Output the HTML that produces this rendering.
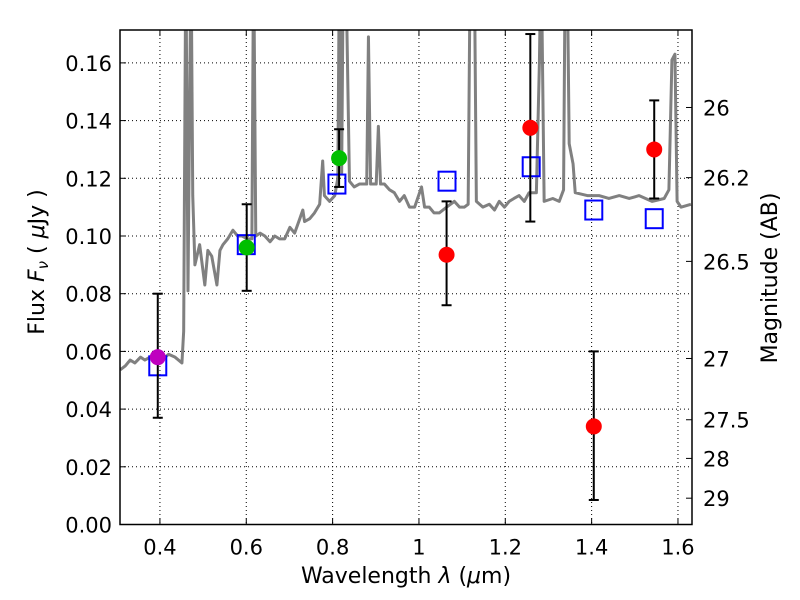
<!DOCTYPE html>
<html><head><meta charset="utf-8"><style>
body{margin:0;background:#fff;}
svg{display:block;font-family:"DejaVu Sans","Liberation Sans",sans-serif;}
</style></head><body>
<svg id="chart" width="800" height="600" viewBox="0 0 800 600" xmlns="http://www.w3.org/2000/svg"></svg>
<script>
const xTicks=[0.4,0.6,0.8,1.0,1.2,1.4,1.6];
const xTickLabels=["0.4","0.6","0.8","1","1.2","1.4","1.6"];
const yTicks=[0,0.02,0.04,0.06,0.08,0.10,0.12,0.14,0.16];
const yTickLabels=["0.00","0.02","0.04","0.06","0.08","0.10","0.12","0.14","0.16"];
const magTicks=[26,26.2,26.5,27,27.5,28,29];
const magTickLabels=["26","26.2","26.5","27","27.5","28","29"];
const specWl=[0.308,0.320,0.331,0.342,0.355,0.365,0.377,0.390,0.405,0.420,0.435,0.451,0.455,0.460,0.465,0.472,0.476,0.481,0.492,0.504,0.511,0.520,0.532,0.539,0.546,0.557,0.569,0.580,0.590,0.603,0.613,0.617,0.622,0.632,0.643,0.655,0.666,0.677,0.689,0.701,0.712,0.724,0.731,0.735,0.747,0.758,0.770,0.777,0.781,0.793,0.805,0.812,0.816,0.821,0.825,0.830,0.839,0.850,0.862,0.879,0.883,0.888,0.901,0.906,0.911,0.920,0.932,0.943,0.955,0.966,0.978,0.990,1.006,1.013,1.024,1.035,1.047,1.064,1.082,1.094,1.105,1.114,1.119,1.128,1.133,1.148,1.163,1.175,1.186,1.198,1.209,1.220,1.232,1.244,1.255,1.272,1.279,1.283,1.290,1.310,1.325,1.335,1.339,1.343,1.348,1.357,1.362,1.390,1.417,1.440,1.464,1.487,1.510,1.540,1.568,1.579,1.586,1.593,1.598,1.607,1.630];
const specFlux=[0.0536,0.055,0.057,0.056,0.058,0.057,0.058,0.059,0.057,0.059,0.058,0.056,0.067,0.2,0.081,0.2,0.114,0.090,0.097,0.083,0.095,0.093,0.083,0.095,0.097,0.099,0.102,0.100,0.100,0.099,0.099,0.2,0.100,0.101,0.100,0.098,0.100,0.099,0.099,0.103,0.101,0.106,0.109,0.105,0.106,0.108,0.111,0.126,0.114,0.112,0.114,0.120,0.2,0.122,0.2,0.2,0.119,0.117,0.118,0.118,0.169,0.118,0.118,0.138,0.118,0.118,0.116,0.115,0.112,0.114,0.110,0.110,0.117,0.110,0.110,0.108,0.108,0.110,0.112,0.110,0.110,0.111,0.2,0.2,0.112,0.110,0.111,0.109,0.112,0.110,0.112,0.113,0.114,0.112,0.115,0.115,0.160,0.2,0.112,0.113,0.112,0.116,0.2,0.2,0.132,0.125,0.115,0.114,0.114,0.113,0.114,0.113,0.114,0.112,0.113,0.116,0.161,0.163,0.112,0.110,0.111];
const sqWl=[0.395,0.600,0.810,1.065,1.260,1.405,1.545];
const sqFlux=[0.055,0.097,0.118,0.119,0.124,0.109,0.106];
const magentaWl=[0.395],magentaFlux=[0.058],magentaLo=[0.037],magentaHi=[0.080];
const greenWl=[0.601,0.815],greenFlux=[0.096,0.127],greenLo=[0.081,0.117],greenHi=[0.111,0.137];
const redWl=[1.064,1.258,1.405,1.545],redFlux=[0.0935,0.1375,0.034,0.130],redLo=[0.076,0.105,0.0085,0.113],redHi=[0.112,0.170,0.060,0.147];

const L=120,R=692,T=30,B=524.5;
const X0=0.3075,X1=1.6325,Y0=0,Y1=0.1714;
const sx=v=>L+(v-X0)/(X1-X0)*(R-L);
const sy=v=>B-(v-Y0)/(Y1-Y0)*(B-T);
const magY=m=>sy(Math.pow(10,-0.4*(m-23.9)));
const svg=document.getElementById('chart');
const NS="http://www.w3.org/2000/svg";
function mk(tag,attrs,parent){const e=document.createElementNS(NS,tag);for(const k in attrs)e.setAttribute(k,attrs[k]);(parent||svg).appendChild(e);return e;}

const defs=mk('defs',{});
const cp=mk('clipPath',{id:'clip'},defs);mk('rect',{x:L,y:T,width:R-L,height:B-T},cp);

const grid=mk('g',{});


xTicks.forEach(v=>{mk('line',{x1:sx(v),x2:sx(v),y1:T,y2:B,stroke:'#000','stroke-width':1,'stroke-dasharray':'1,3'},grid);});
yTicks.forEach(v=>{mk('line',{x1:L,x2:R,y1:sy(v),y2:sy(v),stroke:'#000','stroke-width':1,'stroke-dasharray':'1,3'},grid);});

const spec=mk('polyline',{points:specWl.map((w,i)=>sx(w)+','+sy(specFlux[i])).join(' '),fill:'none',stroke:'#808080','stroke-width':3,'stroke-linejoin':'round','clip-path':'url(#clip)'});



function errs(wl,lo,hi,name){const g=mk('g',{'clip-path':'url(#clip)'});


wl.forEach((w,i)=>{const x=sx(w);mk('line',{x1:x,x2:x,y1:sy(lo[i]),y2:sy(hi[i]),stroke:'#000','stroke-width':2},g);
[lo[i],hi[i]].forEach(v=>mk('line',{x1:x-5,x2:x+5,y1:sy(v),y2:sy(v),stroke:'#000','stroke-width':2},g));});}
function dots(wl,fl,color,name){const g=mk('g',{});


wl.forEach((w,i)=>{const c=mk('circle',{cx:sx(w),cy:sy(fl[i]),r:8,fill:color},g);

});}

const sq=mk('g',{});


errs(magentaWl,magentaLo,magentaHi,'magenta-errorbars');
dots(magentaWl,magentaFlux,'#bf00bf','magenta-photometry');
sqWl.forEach((w,i)=>{const r=mk('rect',{x:sx(w)-8.5,y:sy(sqFlux[i])-9.5,width:17,height:19,fill:'none',stroke:'#0000ff','stroke-width':2},sq);

});
errs(greenWl,greenLo,greenHi,'green-errorbars');
dots(greenWl,greenFlux,'#00bf00','green-photometry');
errs(redWl,redLo,redHi,'red-errorbars');
dots(redWl,redFlux,'#ff0000','red-photometry');

const ax=mk('g',{});


mk('rect',{x:L,y:T,width:R-L,height:B-T,fill:'none',stroke:'#000','stroke-width':1.5},ax);
xTicks.forEach((v,i)=>{const x=sx(v);mk('line',{x1:x,x2:x,y1:B,y2:B-6,stroke:'#000'},ax);mk('line',{x1:x,x2:x,y1:T,y2:T+6,stroke:'#000'},ax);
const t=mk('text',{x:x,y:B+30,'text-anchor':'middle','font-size':21},ax);t.textContent=xTickLabels[i];

});
yTicks.forEach((v,i)=>{const y=sy(v);mk('line',{x1:L,x2:L+6,y1:y,y2:y,stroke:'#000'},ax);
const t=mk('text',{x:L-8,y:y+8,'text-anchor':'end','font-size':21},ax);t.textContent=yTickLabels[i];

});
magTicks.forEach((m,i)=>{const y=magY(m);mk('line',{x1:R-6,x2:R,y1:y,y2:y,stroke:'#000'},ax);
const t=mk('text',{x:R+11,y:y+8,'font-size':21},ax);t.textContent=magTickLabels[i];

});
</script>
<svg style="position:absolute;left:0;top:0" width="800" height="600">
<text x="406" y="583" text-anchor="middle" font-size="22" font-family="DejaVu Sans, sans-serif">Wavelength  <tspan font-style="italic">λ</tspan> (<tspan font-style="italic">μ</tspan>m)</text>
<text transform="translate(44,262) rotate(-90)" text-anchor="middle" font-size="22" font-family="DejaVu Sans, sans-serif">Flux  <tspan font-style="italic">F</tspan><tspan font-style="italic" font-size="15" dy="4">ν</tspan><tspan dy="-4">  ( </tspan><tspan font-style="italic">μ</tspan>Jy )</text>
<text transform="translate(777,278) rotate(-90)" text-anchor="middle" font-size="22" font-family="DejaVu Sans, sans-serif">Magnitude (AB)</text>
</svg>
</body></html>
